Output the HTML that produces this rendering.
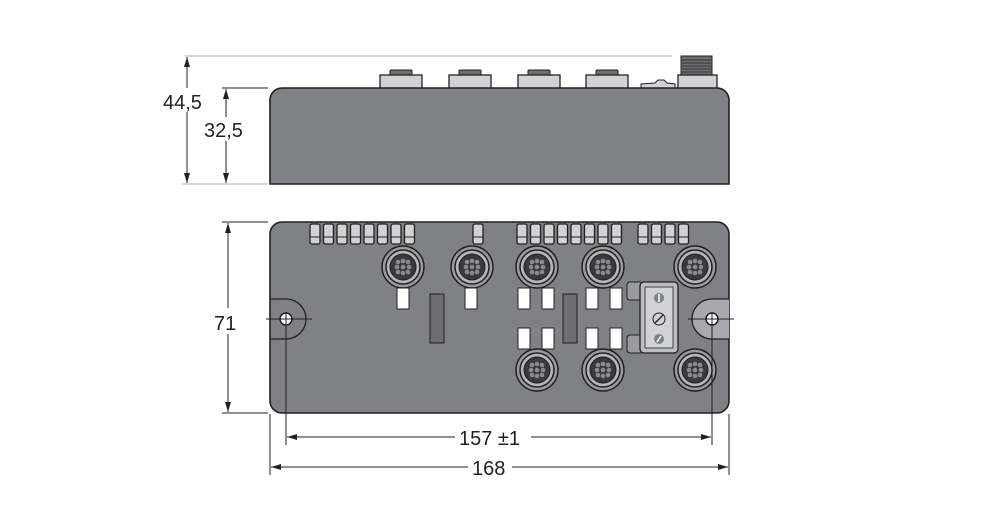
<!DOCTYPE html>
<html><head><meta charset="utf-8"><style>
html,body{margin:0;padding:0;background:#fff;width:996px;height:511px;overflow:hidden}
svg{display:block}
text{font-family:"Liberation Sans",sans-serif;font-size:20px;fill:#231f20}
</style></head><body>
<svg width="996" height="511" viewBox="0 0 996 511" xmlns="http://www.w3.org/2000/svg">
<defs>
<marker id="a" viewBox="0 0 10 6" refX="10" refY="3" markerWidth="10" markerHeight="6" orient="auto-start-reverse" markerUnits="userSpaceOnUse"><path d="M0,0L10,3L0,6z" fill="#231f20"/></marker>
<g id="conn">
<circle r="21" fill="#9a9b9e" stroke="#231f20" stroke-width="1.5"/>
<circle r="17" fill="#b5b6b8" stroke="#231f20" stroke-width="1.5"/>
<circle r="13" fill="#3a3a3c" stroke="#231f20" stroke-width="1"/>
<g fill="#8a8b8d"><circle cx="-5" cy="-5" r="2.3"/><circle cx="0" cy="-6" r="2.3"/><circle cx="5" cy="-5" r="2.3"/><circle cx="-6" cy="0" r="2.3"/><circle cx="0" cy="0" r="2.3"/><circle cx="6" cy="0" r="2.3"/><circle cx="-5" cy="5" r="2.3"/><circle cx="0" cy="6" r="2.3"/><circle cx="5" cy="5" r="2.3"/></g>
</g>
<g id="led"><rect x="0" y="0" width="10" height="20" rx="2" fill="#d1d2d4" stroke="#231f20" stroke-width="1.3"/><line x1="0" y1="13" x2="10" y2="13" stroke="#231f20" stroke-width="1"/></g>
<g id="topc"><rect x="10" y="0" width="22" height="6" rx="1" fill="#6d6e71" stroke="#231f20"/><rect x="0" y="5" width="42" height="14" fill="#d1d2d4" stroke="#231f20" stroke-width="1.3"/></g>
</defs>

<!-- top view dimensions -->
<line x1="185" y1="56" x2="672" y2="56" stroke="#bcbec0" stroke-width="1.3"/>
<line x1="222" y1="88" x2="268" y2="88" stroke="#231f20" stroke-width="1"/>
<line x1="182" y1="184" x2="268" y2="184" stroke="#bcbec0" stroke-width="1.3"/>
<line x1="187" y1="57" x2="187" y2="183" stroke="#231f20" stroke-width="1" marker-start="url(#a)" marker-end="url(#a)"/>
<line x1="226" y1="89" x2="226" y2="183" stroke="#231f20" stroke-width="1" marker-start="url(#a)" marker-end="url(#a)"/>
<rect x="160" y="88" width="38" height="24" fill="#fff"/>
<text x="163" y="109">44,5</text>
<rect x="202" y="117" width="45" height="24" fill="#fff"/>
<text x="204" y="137">32,5</text>

<!-- top connectors -->
<use href="#topc" x="380" y="70"/>
<use href="#topc" x="449" y="70"/>
<use href="#topc" x="518" y="70"/>
<use href="#topc" x="586" y="70"/>
<rect x="681" y="56" width="31" height="20" fill="#6d6e71" stroke="#231f20"/>
<g stroke="#231f20" stroke-width="0.8"><line x1="682" y1="60" x2="711" y2="60"/><line x1="682" y1="63" x2="711" y2="63"/><line x1="682" y1="66" x2="711" y2="66"/><line x1="682" y1="69" x2="711" y2="69"/><line x1="682" y1="72" x2="711" y2="72"/></g>
<rect x="678" y="75" width="39" height="14" fill="#d1d2d4" stroke="#231f20" stroke-width="1.3"/>
<path d="M641,88 L641,84 L655,83 L658,80 L664,80 L667,83 L675,84 L675,88z" fill="#d1d2d4" stroke="#231f20"/>
<!-- top body -->
<path d="M282,88 H717 A12,12 0 0 1 729,100 V184 H270 V100 A12,12 0 0 1 282,88z" fill="#808184" stroke="#231f20" stroke-width="1.6"/>

<!-- bottom view -->
<rect x="270" y="222" width="459" height="191" rx="12" fill="#808184" stroke="#231f20" stroke-width="1.6"/>
<path d="M270,299 H286 A20,20 0 0 1 286,339 H270" fill="none" stroke="#231f20" stroke-width="1.3"/>
<path d="M729,299 H712 A20,20 0 0 0 712,339 H729" fill="#a7a9ac" stroke="#231f20" stroke-width="1.3"/>
<!-- LEDs -->
<use href="#led" x="310" y="224"/><use href="#led" x="323.5" y="224"/><use href="#led" x="337" y="224"/><use href="#led" x="350.5" y="224"/><use href="#led" x="364" y="224"/><use href="#led" x="377.5" y="224"/><use href="#led" x="391" y="224"/><use href="#led" x="404.5" y="224"/>
<use href="#led" x="473" y="224"/>
<use href="#led" x="517" y="224"/><use href="#led" x="530.5" y="224"/><use href="#led" x="544" y="224"/><use href="#led" x="557.5" y="224"/><use href="#led" x="571" y="224"/><use href="#led" x="584.5" y="224"/><use href="#led" x="598" y="224"/><use href="#led" x="611.5" y="224"/>
<use href="#led" x="638" y="224"/><use href="#led" x="651.5" y="224"/><use href="#led" x="665" y="224"/><use href="#led" x="678.5" y="224"/>
<!-- connectors -->
<use href="#conn" x="403" y="267"/><use href="#conn" x="472" y="267"/><use href="#conn" x="537" y="267"/><use href="#conn" x="603" y="267"/><use href="#conn" x="695" y="267"/>
<use href="#conn" x="537" y="370"/><use href="#conn" x="603" y="370"/><use href="#conn" x="695" y="370"/>
<!-- white labels -->
<g fill="#fff" stroke="#231f20" stroke-width="1">
<rect x="397" y="288" width="12" height="21"/><rect x="465" y="288" width="12" height="21"/>
<rect x="518" y="288" width="12" height="21"/><rect x="542" y="288" width="12" height="21"/>
<rect x="586" y="288" width="12" height="21"/><rect x="610" y="288" width="12" height="21"/>
<rect x="518" y="328" width="12" height="21"/><rect x="542" y="328" width="12" height="21"/>
<rect x="586" y="328" width="12" height="21"/><rect x="610" y="328" width="12" height="21"/>
</g>
<rect x="430" y="294" width="14" height="49" fill="#6d6e71" stroke="#231f20"/>
<rect x="563" y="294" width="14" height="49" fill="#6d6e71" stroke="#231f20"/>
<!-- switch panel -->
<rect x="627" y="282" width="16" height="18" rx="3" fill="#9a9b9e" stroke="#231f20"/>
<rect x="627" y="335" width="16" height="18" rx="3" fill="#9a9b9e" stroke="#231f20"/>
<rect x="640" y="282" width="38" height="71" rx="4" fill="#bcbec0" stroke="#231f20" stroke-width="1.3"/>
<rect x="645" y="287" width="28" height="61" fill="#d1d2d4" stroke="#231f20" stroke-width="0.8"/>
<circle cx="659" cy="298" r="5" fill="#808184"/><line x1="659" y1="294" x2="659" y2="302" stroke="#fff" stroke-width="1.5"/>
<circle cx="659" cy="319" r="6" fill="#d1d2d4" stroke="#231f20"/><line x1="655" y1="323" x2="663" y2="315" stroke="#231f20" stroke-width="1.3"/>
<circle cx="659" cy="339" r="5" fill="#808184"/><line x1="657" y1="342" x2="661" y2="336" stroke="#fff" stroke-width="1.5"/>
<!-- holes -->
<circle cx="286" cy="319" r="6" fill="#fff" stroke="#231f20" stroke-width="1.5"/>
<circle cx="712" cy="319" r="6" fill="#fff" stroke="#231f20" stroke-width="1.5"/>
<g stroke="#231f20" stroke-width="1">
<line x1="266" y1="319" x2="312" y2="319"/><line x1="286" y1="312" x2="286" y2="445"/>
<line x1="688" y1="319" x2="734" y2="319"/><line x1="712" y1="312" x2="712" y2="445"/>
<line x1="270" y1="414" x2="270" y2="475"/><line x1="729" y1="414" x2="729" y2="475"/>
<line x1="222" y1="222" x2="268" y2="222"/><line x1="222" y1="413" x2="268" y2="413"/>
</g>
<line x1="228" y1="223" x2="228" y2="412" stroke="#231f20" stroke-width="1" marker-start="url(#a)" marker-end="url(#a)"/>
<rect x="212" y="308" width="30" height="26" fill="#fff"/>
<text x="214" y="330">71</text>
<line x1="287" y1="437" x2="711" y2="437" stroke="#231f20" stroke-width="1" marker-start="url(#a)" marker-end="url(#a)"/>
<rect x="455" y="425" width="76" height="24" fill="#fff"/>
<text x="459" y="445">157 ±1</text>
<line x1="271" y1="467" x2="728" y2="467" stroke="#231f20" stroke-width="1" marker-start="url(#a)" marker-end="url(#a)"/>
<rect x="468" y="455" width="44" height="24" fill="#fff"/>
<text x="472" y="475">168</text>
</svg>
</body></html>
